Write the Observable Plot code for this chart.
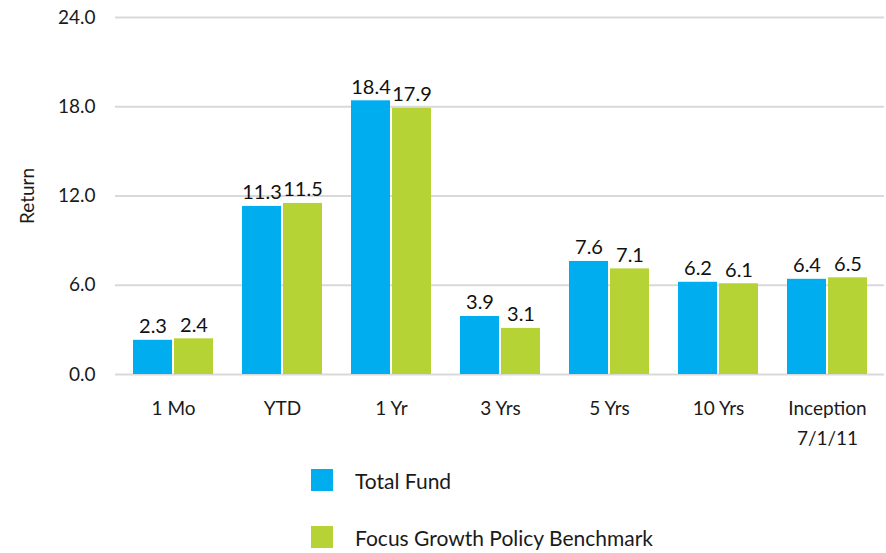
<!DOCTYPE html>
<html>
<head>
<meta charset="utf-8">
<script src="https://cdn.jsdelivr.net/npm/d3@7"></script>
<script src="https://cdn.jsdelivr.net/npm/@observablehq/plot@0.6"></script>
<style>
  html, body { margin: 0; padding: 0; background: #fff; }
  body { width: 886px; height: 553px; position: relative; font-family: Lato, "Open Sans", sans-serif; }
  #legend { position: absolute; left: 311px; top: 469px; }
  .item { display: flex; align-items: center; height: 22px; margin-bottom: 35px; font-size: 21px; color: #1a1a1a; }
  .sw { width: 22px; height: 22px; margin-right: 22px; }
</style>
</head>
<body>
<div id="chart"></div>
<div id="legend"></div>
<script>
const categories = ["1 Mo", "YTD", "1 Yr", "3 Yrs", "5 Yrs", "10 Yrs", "Inception\n7/1/11"];
const seriesNames = ["Total Fund", "Focus Growth Policy Benchmark"];
const totalFund = [2.3, 11.3, 18.4, 3.9, 7.6, 6.2, 6.4];
const benchmark = [2.4, 11.5, 17.9, 3.1, 7.1, 6.1, 6.5];
const yTicks = [0, 6, 12, 18, 24];
const yTitle = "Return";
const colors = ["#00AEEF", "#B5D334"];

const fundData = categories.map((c, i) => ({category: c, value: totalFund[i]}));
const benchData = categories.map((c, i) => ({category: c, value: benchmark[i]}));

const fmt = d3.format(".1f");

const chart = Plot.plot({
  width: 886,
  height: 460,
  marginTop: 17,
  marginBottom: 86,
  marginLeft: 115,
  marginRight: 2,
  style: {fontFamily: "Lato, 'Open Sans', sans-serif", fontSize: "19px", color: "#1a1a1a", background: "#fff"},
  x: {type: "band", domain: categories, paddingInner: 0.27, paddingOuter: 0.135},
  y: {domain: [0, 24]},
  marks: [
    Plot.ruleY(yTicks, {stroke: "#d9d9d9", strokeWidth: 2}),
    Plot.axisY({ticks: yTicks, tickFormat: fmt, tickSize: 0, tickPadding: 20, label: null, fontSize: 19}),
    Plot.axisX({tickSize: 0, tickPadding: 20, label: null, fontSize: 19, lineHeight: 1.55}),
    Plot.text([yTitle], {frameAnchor: "left", textAnchor: "middle", rotate: -90, dx: -88, fontSize: 19, fill: "#1a1a1a"}),
    Plot.barY(fundData, {x: "category", y: "value", fill: colors[0], insetRight: 41}),
    Plot.barY(benchData, {x: "category", y: "value", fill: colors[1], insetLeft: 41}),
    Plot.text(fundData, {x: "category", y: "value", text: d => fmt(d.value), dx: -20.5, dy: -7, lineAnchor: "bottom", fontSize: 20, fill: "#111"}),
    Plot.text(benchData, {x: "category", y: "value", text: d => fmt(d.value), dx: 20.5, dy: -7, lineAnchor: "bottom", fontSize: 20, fill: "#111"})
  ]
});
document.getElementById("chart").appendChild(chart);

const legend = document.getElementById("legend");
seriesNames.forEach((name, i) => {
  const item = document.createElement("div");
  item.className = "item";
  const sw = document.createElement("div");
  sw.className = "sw";
  sw.style.background = colors[i];
  const label = document.createElement("span");
  label.textContent = name;
  item.appendChild(sw);
  item.appendChild(label);
  legend.appendChild(item);
});
</script>
</body>
</html>
